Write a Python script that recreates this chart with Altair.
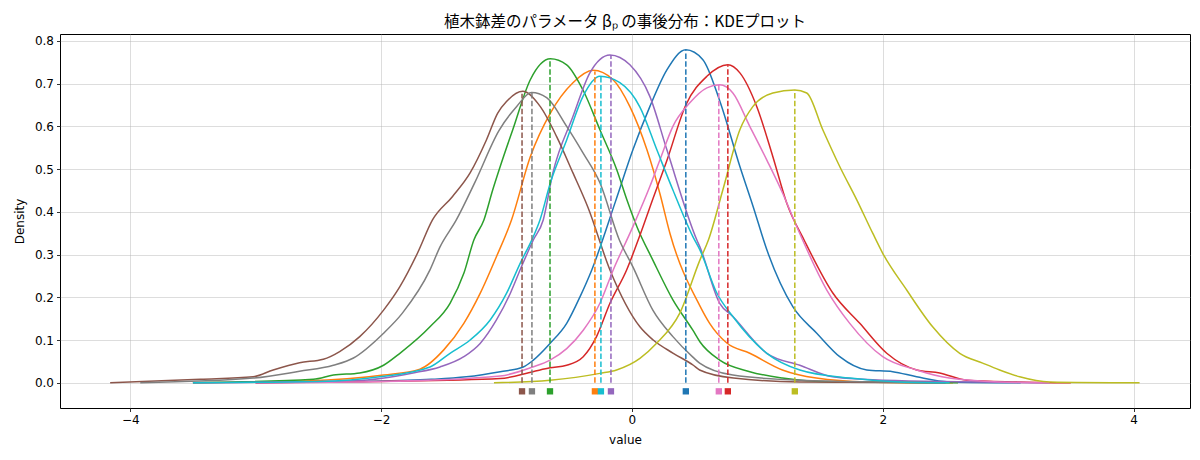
import altair as alt
import pandas as pd

# ---- data (x value, density) ----
SERIES = ["s0", "s1", "s2", "s3", "s4", "s5", "s6", "s7", "s8", "s9"]
COLORS = ["#1f77b4", "#ff7f0e", "#2ca02c", "#d62728", "#9467bd",
          "#8c564b", "#e377c2", "#7f7f7f", "#bcbd22", "#17becf"]

S0_X = [-3.0, -2.2, -1.6, -1.32, -1.05, -0.866, -0.786, -0.653, -0.52, -0.414, -0.32, -0.13, 0.008, 0.143, 0.279, 0.43, 0.566, 0.70, 0.861, 0.967, 1.076, 1.283, 1.474, 1.657, 1.873, 2.08, 2.27, 2.53, 3.1]
S0_Y = [0.0, 0.003, 0.008, 0.014, 0.026, 0.037, 0.053, 0.092, 0.139, 0.201, 0.264, 0.425, 0.545, 0.646, 0.732, 0.779, 0.756, 0.66, 0.506, 0.412, 0.311, 0.178, 0.116, 0.061, 0.03, 0.026, 0.014, 0.002, 0.0]

S1_X = [-3.5, -2.6, -1.98, -1.69, -1.50, -1.34, -1.21, -1.08, -0.96, -0.81, -0.65, -0.47, -0.31, -0.15, -0.016, 0.12, 0.223, 0.303, 0.542, 0.62, 0.757, 0.94, 1.20, 1.47, 1.87, 2.56]
S1_Y = [0.0, 0.004, 0.018, 0.032, 0.077, 0.139, 0.209, 0.295, 0.381, 0.529, 0.631, 0.702, 0.731, 0.709, 0.646, 0.545, 0.443, 0.35, 0.18, 0.139, 0.093, 0.069, 0.03, 0.011, 0.002, 0.0]

S2_X = [-3.5, -2.54, -2.38, -2.17, -1.98, -1.85, -1.61, -1.45, -1.34, -1.26, -1.18, -1.11, -1.05, -0.95, -0.81, -0.65, -0.52, -0.39, -0.255, -0.12, -0.04, 0.04, 0.167, 0.327, 0.486, 0.542, 0.70, 0.94, 1.20, 1.60, 2.6]
S2_Y = [0.0, 0.008, 0.018, 0.023, 0.041, 0.069, 0.131, 0.186, 0.256, 0.334, 0.381, 0.451, 0.506, 0.592, 0.709, 0.758, 0.744, 0.685, 0.592, 0.498, 0.428, 0.365, 0.287, 0.194, 0.123, 0.096, 0.053, 0.026, 0.011, 0.002, 0.0]

S3_X = [-3.0, -2.0, -1.05, -0.79, -0.653, -0.52, -0.388, -0.282, -0.175, -0.042, 0.064, 0.167, 0.279, 0.43, 0.598, 0.765, 0.861, 0.996, 1.124, 1.235, 1.38, 1.602, 1.817, 2.032, 2.271, 2.454, 2.669, 3.068, 3.5]
S3_Y = [0.0, 0.003, 0.01, 0.026, 0.035, 0.041, 0.061, 0.108, 0.186, 0.264, 0.345, 0.43, 0.52, 0.65, 0.717, 0.744, 0.725, 0.646, 0.529, 0.42, 0.33, 0.21, 0.139, 0.069, 0.03, 0.023, 0.006, 0.002, 0.0]

S4_X = [-3.5, -2.2, -1.745, -1.53, -1.34, -1.21, -1.08, -0.97, -0.88, -0.786, -0.707, -0.63, -0.47, -0.335, -0.175, -0.016, 0.143, 0.279, 0.518, 0.542, 0.70, 0.805, 1.076, 1.339, 1.60, 2.0, 3.33]
S4_Y = [0.0, 0.005, 0.023, 0.037, 0.061, 0.092, 0.147, 0.209, 0.272, 0.334, 0.381, 0.491, 0.623, 0.725, 0.767, 0.744, 0.67, 0.545, 0.334, 0.318, 0.186, 0.155, 0.069, 0.041, 0.014, 0.006, 0.0]

S5_X = [-4.16, -3.44, -3.02, -2.86, -2.65, -2.46, -2.33, -2.17, -1.98, -1.85, -1.71, -1.59, -1.43, -1.29, -1.16, -1.07, -1.0, -0.87, -0.73, -0.60, -0.47, -0.35, -0.175, 0.064, 0.17, 0.33, 0.49, 0.54, 0.81, 1.34, 2.5]
S5_Y = [0.0, 0.008, 0.014, 0.03, 0.047, 0.055, 0.073, 0.108, 0.17, 0.225, 0.303, 0.381, 0.436, 0.491, 0.568, 0.631, 0.658, 0.682, 0.646, 0.576, 0.491, 0.41, 0.264, 0.131, 0.1, 0.069, 0.041, 0.03, 0.011, 0.002, 0.0]

S6_X = [-3.0, -2.0, -1.05, -0.79, -0.653, -0.52, -0.388, -0.255, -0.149, 0.0, 0.143, 0.223, 0.327, 0.462, 0.598, 0.70, 0.805, 0.94, 1.076, 1.203, 1.315, 1.554, 1.737, 2.0, 2.27, 2.53, 2.93, 3.33]
S6_Y = [0.0, 0.003, 0.016, 0.037, 0.053, 0.08, 0.123, 0.186, 0.264, 0.36, 0.459, 0.521, 0.6, 0.655, 0.69, 0.697, 0.678, 0.6, 0.521, 0.443, 0.365, 0.217, 0.139, 0.061, 0.03, 0.011, 0.002, 0.0]

S7_X = [-3.92, -3.02, -2.65, -2.38, -2.22, -1.98, -1.83, -1.61, -1.53, -1.40, -1.25, -1.06, -0.92, -0.80, -0.68, -0.52, -0.39, -0.255, -0.10, 0.008, 0.167, 0.327, 0.486, 0.54, 0.805, 1.34, 2.5]
S7_Y = [0.0, 0.011, 0.027, 0.041, 0.058, 0.116, 0.163, 0.264, 0.318, 0.381, 0.47, 0.59, 0.646, 0.679, 0.667, 0.6, 0.538, 0.468, 0.334, 0.271, 0.17, 0.108, 0.06, 0.046, 0.018, 0.006, 0.0]

S8_X = [-1.1, -0.653, -0.255, -0.122, 0.064, 0.199, 0.382, 0.542, 0.61, 0.725, 0.861, 0.964, 1.124, 1.299, 1.394, 1.522, 1.657, 1.793, 1.92, 2.0, 2.191, 2.398, 2.614, 2.797, 2.932, 3.092, 3.331, 4.048]
S8_Y = [0.0, 0.006, 0.022, 0.03, 0.057, 0.093, 0.163, 0.287, 0.334, 0.451, 0.592, 0.646, 0.678, 0.685, 0.678, 0.592, 0.506, 0.428, 0.35, 0.303, 0.217, 0.131, 0.069, 0.046, 0.03, 0.014, 0.002, 0.0]

S9_X = [-3.5, -2.5, -2.01, -1.61, -1.45, -1.29, -1.13, -1.0, -0.89, -0.786, -0.733, -0.65, -0.52, -0.39, -0.255, -0.096, 0.064, 0.199, 0.327, 0.486, 0.542, 0.677, 0.805, 1.076, 1.339, 1.737, 2.135, 2.534]
S9_Y = [0.0, 0.003, 0.014, 0.037, 0.069, 0.1, 0.147, 0.209, 0.28, 0.342, 0.381, 0.468, 0.568, 0.67, 0.717, 0.702, 0.645, 0.545, 0.451, 0.342, 0.311, 0.21, 0.155, 0.069, 0.03, 0.011, 0.002, 0.0]

MEANS = [0.430, -0.295, -0.653, 0.765, -0.167, -0.876, 0.693, -0.797, 1.299, -0.247]
MEAN_DENS = [0.778, 0.728, 0.757, 0.743, 0.767, 0.676, 0.697, 0.679, 0.685, 0.718]
MARKER_Y = -0.02

XS = [S0_X, S1_X, S2_X, S3_X, S4_X, S5_X, S6_X, S7_X, S8_X, S9_X]
YS = [S0_Y, S1_Y, S2_Y, S3_Y, S4_Y, S5_Y, S6_Y, S7_Y, S8_Y, S9_Y]

rows = []
for i, (xs, ys) in enumerate(zip(XS, YS)):
    for x, y in zip(xs, ys):
        rows.append({"series": SERIES[i], "order": i, "value": x, "density": y})
curves = pd.DataFrame(rows)

means = pd.DataFrame({
    "series": SERIES,
    "order": list(range(10)),
    "mean": MEANS,
    "top": MEAN_DENS,
    "zero": [0.0] * 10,
    "mk": [MARKER_Y] * 10,
})

color = alt.Color("series:N", scale=alt.Scale(domain=SERIES, range=COLORS), legend=None)
xscale = alt.Scale(domain=[-4.56, 4.45], nice=False, zero=False)
yscale = alt.Scale(domain=[-0.059, 0.816], nice=False, zero=False)

xaxis = alt.Axis(values=[-4, -2, 0, 2, 4], title="value", format="d")
yaxis = alt.Axis(values=[0, 0.1, 0.2, 0.3, 0.4, 0.5, 0.6, 0.7, 0.8], title="Density", format=".1f")

lines = alt.Chart(curves).mark_line(strokeWidth=1.5, interpolate="monotone").encode(
    x=alt.X("value:Q", scale=xscale, axis=xaxis),
    y=alt.Y("density:Q", scale=yscale, axis=yaxis),
    color=color,
    detail="series:N",
)

rules = alt.Chart(means).mark_rule(strokeWidth=1.5, strokeDash=[5.5, 2.4]).encode(
    x="mean:Q",
    y="zero:Q",
    y2="top:Q",
    color=color,
)

marks = alt.Chart(means).mark_square(size=40, opacity=1, filled=True).encode(
    x="mean:Q",
    y="mk:Q",
    color=color,
)

chart = alt.layer(lines, rules, marks).properties(
    width=1130,
    height=374,
    title=alt.TitleParams("植木鉢差のパラメータ βₚ の事後分布：KDEプロット",
                          font="Noto Sans CJK JP", fontSize=15.5, fontWeight="normal",
                          color="#000", offset=4),
    autosize=alt.AutoSizeParams(type="none"),
    padding={"left": 52, "top": 26, "right": 2, "bottom": 44},
).configure_view(
    stroke="#000", strokeWidth=1
).configure_axis(
    labelFont="DejaVu Sans", labelFontSize=12, labelColor="#000",
    titleFont="DejaVu Sans", titleFontSize=12, titleColor="#000", titleFontWeight="normal",
    tickColor="#000", tickSize=3.5, tickWidth=0.8,
    domain=False,
    grid=True, gridColor="#b0b0b0", gridOpacity=0.55, gridWidth=0.8,
    labelPadding=3,
).configure_axisX(
    titlePadding=9,
).configure_axisY(
    titlePadding=8,
)

chart.save("out.html", embed_options={"renderer": "svg", "actions": False})
